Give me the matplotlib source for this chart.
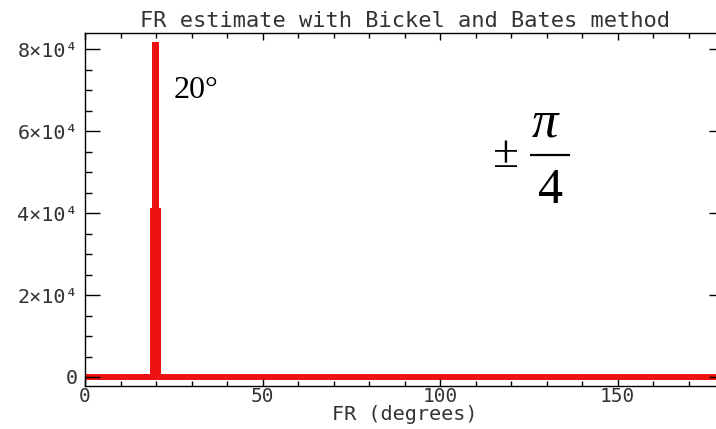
import numpy as np
import matplotlib
matplotlib.use('Agg')
import matplotlib.pyplot as plt
from matplotlib.ticker import MultipleLocator, FixedLocator

# histogram of FR estimates (bin edges in degrees, counts per bin)
fr_edges = [0.0, 19.25, 19.65, 20.05, 20.45, 180.0]
fr_counts = [0, 40500, 81000, 40500, 0]

y_ticks = [0, 20000, 40000, 60000, 80000]
y_tick_labels = ['0', '2\u00d710\u2074', '4\u00d710\u2074', '6\u00d710\u2074', '8\u00d710\u2074']
x_ticks = [0, 50, 100, 150]
x_tick_labels = ['0', '50', '100', '150']

txt_color = '#333333'
serif = 'Liberation Serif'
plt.rcParams['font.family'] = ['DejaVu Sans Mono', 'DejaVu Sans']

fig = plt.figure(figsize=(7.16, 4.29), dpi=100)
# axes run a little past the right edge of the figure
ax = fig.add_axes([85 / 716, 1 - 386 / 429, 639 / 716, 353 / 429])

ax.stairs(fr_counts, fr_edges, color='#ee1111', linewidth=4.3, baseline=None)

ax.set_xlim(0, 180)
ax.set_ylim(-2200, 84000)

ax.xaxis.set_major_locator(FixedLocator(x_ticks))
ax.xaxis.set_minor_locator(MultipleLocator(10))
ax.yaxis.set_major_locator(FixedLocator(y_ticks))
ax.yaxis.set_minor_locator(MultipleLocator(5000))
ax.set_xticklabels(x_tick_labels)
ax.set_yticklabels(y_tick_labels)

ax.tick_params(which='both', direction='in', top=True, right=True, width=1,
               colors='black', labelcolor=txt_color, labelsize=14.5)
ax.tick_params(axis='y', which='major', length=10.5, pad=5)
ax.tick_params(axis='y', which='minor', length=5)
ax.tick_params(axis='x', which='major', length=5, pad=1, labelsize=14)
ax.tick_params(axis='x', which='minor', length=3.5)
for s in ax.spines.values():
    s.set_linewidth(1)

ax.set_title('FR estimate with Bickel and Bates method', fontsize=15.8,
             color=txt_color, pad=4)
ax.set_xlabel('FR (degrees)', fontsize=14.5, color=txt_color, labelpad=-1)

# peak annotation
ax.text(25.1, 68100, '20\u00b0', family=serif, fontsize=23, color='black',
        ha='left', va='baseline')

# +/- pi/4 label
ax.text(118.6, 54000, '\u00b1', family=serif, fontsize=34, color='black',
        ha='center', va='center')
ax.text(129.5, 61800, '\u03c0', family=serif, style='italic', fontsize=38,
        color='black', ha='center', va='center')
ax.plot([125.4, 136.6], [54200, 54200], color='black', linewidth=1.6,
        solid_capstyle='butt')
ax.text(131, 45400, '4', family=serif, fontsize=36, color='black',
        ha='center', va='center')

fig.savefig('out.png', dpi=100)
